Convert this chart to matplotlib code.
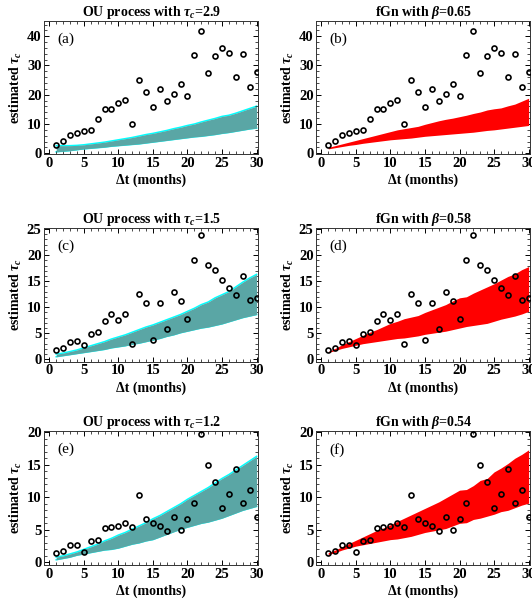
import numpy as np
import matplotlib
matplotlib.use("Agg")
import matplotlib.pyplot as plt
from matplotlib.ticker import MultipleLocator

plt.rcParams['font.family'] = ['Liberation Serif', 'DejaVu Serif']
plt.rcParams['font.weight'] = 'bold'
plt.rcParams['mathtext.fontset'] = 'custom'
plt.rcParams['mathtext.it'] = 'Liberation Serif:italic:bold'
plt.rcParams['mathtext.rm'] = 'Liberation Serif:bold'

dt = np.arange(1, 31)

# measured tau_c, one set per row
tau_row1 = [2.8, 4.3, 6.2, 7.0, 7.5, 8.0, 11.8, 15.0, 15.2, 17.2, 18.2, 9.9, 24.9, 20.9, 15.7,
            21.8, 18.0, 20.1, 23.8, 19.7, 33.5, 41.7, 27.4, 33.3, 36.0, 34.2, 25.9, 33.8, 22.8, 27.7]
tau_row2 = [1.7, 2.2, 3.4, 3.6, 2.7, 4.8, 5.2, 7.4, 8.7, 7.5, 8.7, 3.0, 12.5, 10.9, 3.8,
            10.9, 5.9, 12.9, 11.1, 7.8, 19.1, 23.9, 18.1, 17.1, 15.3, 13.6, 12.3, 15.9, 11.4, 11.8]
tau_row3 = [1.4, 1.7, 2.6, 2.7, 1.6, 3.3, 3.4, 5.3, 5.5, 5.6, 6.1, 5.4, 10.3, 6.6, 6.1,
            5.6, 4.8, 6.9, 4.9, 6.6, 9.2, 19.7, 14.9, 12.3, 8.3, 10.5, 14.4, 9.1, 11.2, 6.9]

# simulated ranges (upper / lower)
ou_a_hi = [2.6, 2.6, 2.6, 2.7, 2.9, 3.2, 3.5, 3.8, 4.2, 4.6, 5.0, 5.4, 5.9, 6.4, 6.8,
           7.3, 7.8, 8.4, 8.9, 9.5, 10.0, 10.7, 11.3, 11.9, 12.6, 13.0, 13.7, 14.5, 15.3, 16.1]
ou_a_lo = [0.5, 0.7, 0.9, 1.2, 1.5, 1.7, 1.9, 2.1, 2.4, 2.6, 2.8, 3.0, 3.2, 3.5, 3.8,
           4.1, 4.4, 4.7, 5.0, 5.3, 5.6, 5.8, 6.1, 6.4, 6.8, 7.1, 7.5, 7.9, 8.3, 8.6]
ou_c_hi = [1.0, 1.2, 1.5, 1.8, 2.2, 2.6, 3.0, 3.4, 3.9, 4.3, 4.7, 5.2, 5.7, 6.2, 6.6,
           7.1, 7.6, 8.1, 8.6, 9.2, 9.8, 10.5, 11.0, 11.8, 12.4, 13.0, 13.9, 14.8, 15.6, 16.3]
ou_c_lo = [0.5, 0.7, 0.9, 1.1, 1.3, 1.5, 1.7, 1.9, 2.2, 2.4, 2.6, 2.9, 3.1, 3.4, 3.7,
           4.0, 4.4, 4.7, 5.1, 5.4, 5.7, 6.0, 6.2, 6.5, 6.8, 7.2, 7.6, 8.0, 8.3, 8.6]
ou_e_hi = [0.8, 1.0, 1.3, 1.6, 2.0, 2.4, 2.8, 3.3, 3.7, 4.2, 4.6, 5.1, 5.6, 6.1, 6.7,
           7.2, 7.8, 8.4, 9.0, 9.7, 10.3, 10.9, 11.5, 12.2, 12.9, 13.5, 14.2, 14.9, 15.6, 16.3]
ou_e_lo = [0.4, 0.6, 0.8, 1.1, 1.3, 1.5, 1.7, 1.9, 2.0, 2.2, 2.5, 2.8, 3.0, 3.3, 3.5,
           3.9, 4.3, 4.7, 5.1, 5.4, 5.7, 6.0, 6.2, 6.5, 6.8, 7.2, 7.6, 8.0, 8.3, 8.6]
fgn_b_hi = [2.0, 2.6, 3.2, 3.8, 4.4, 5.0, 5.6, 6.2, 6.8, 7.4, 8.0, 8.4, 8.8, 9.2, 9.9,
            10.5, 11.1, 11.6, 12.0, 12.5, 13.0, 13.6, 14.1, 14.8, 15.2, 15.5, 16.2, 16.8, 17.8, 18.8]
fgn_b_lo = [1.5, 1.9, 2.3, 2.7, 3.0, 3.4, 3.7, 4.0, 4.3, 4.6, 4.8, 5.0, 5.2, 5.5, 5.8,
            6.0, 6.2, 6.4, 6.6, 6.8, 7.0, 7.2, 7.5, 7.8, 8.0, 8.3, 8.6, 8.9, 9.2, 9.5]
fgn_d_hi = [1.5, 2.1, 2.8, 3.4, 4.0, 4.6, 5.2, 5.7, 6.3, 6.9, 7.3, 7.8, 8.1, 8.4, 9.0,
            9.5, 10.0, 10.5, 11.2, 11.8, 12.0, 12.7, 13.3, 13.9, 14.5, 15.2, 15.9, 16.4, 17.2, 17.8]
fgn_d_lo = [1.3, 1.7, 2.1, 2.4, 2.7, 3.0, 3.2, 3.4, 3.6, 3.8, 4.0, 4.1, 4.3, 4.5, 4.8,
            5.0, 5.2, 5.4, 5.7, 6.0, 6.3, 6.5, 6.7, 6.9, 7.3, 7.7, 8.0, 8.3, 8.7, 9.2]
fgn_f_hi = [1.5, 1.9, 2.4, 2.9, 3.4, 3.9, 4.4, 4.9, 5.3, 5.8, 6.3, 6.8, 7.3, 7.8, 8.3,
            8.8, 9.3, 9.9, 10.5, 11.1, 11.2, 11.8, 12.6, 12.9, 13.9, 14.5, 15.2, 16.0, 16.6, 17.3]
fgn_f_lo = [1.2, 1.5, 1.9, 2.2, 2.5, 2.7, 2.9, 3.1, 3.3, 3.5, 3.6, 3.8, 4.0, 4.3, 4.6,
            4.8, 5.0, 5.2, 5.6, 6.0, 6.1, 6.6, 6.8, 7.1, 7.4, 7.8, 8.0, 8.4, 8.8, 9.1]

titles = [r"OU process with $\tau_c$=2.9", r"fGn with $\beta$=0.65",
          r"OU process with $\tau_c$=1.5", r"fGn with $\beta$=0.58",
          r"OU process with $\tau_c$=1.2", r"fGn with $\beta$=0.54"]
letters = ['(a)', '(b)', '(c)', '(d)', '(e)', '(f)']

fig = plt.figure(figsize=(5.32, 6.02), dpi=100)

col_x = [0.0833, 0.5946]
row_y = [0.7442, 0.3992, 0.0615]
row_h = [0.2209, 0.2221, 0.2226]
ylims = [(-0.25, 45.2), (-0.45, 25.2), (-0.4, 20.2)]
ymaj = [10, 5, 5]
ymin = [2, 1, 1]
taus = [tau_row1, tau_row2, tau_row3]
bands = [[(ou_a_lo, ou_a_hi), (fgn_b_lo, fgn_b_hi)],
         [(ou_c_lo, ou_c_hi), (fgn_d_lo, fgn_d_hi)],
         [(ou_e_lo, ou_e_hi), (fgn_f_lo, fgn_f_hi)]]

k = 0
for r in range(3):
    for c in range(2):
        ax = fig.add_axes([col_x[c], row_y[r], 0.402, row_h[r]])
        lo, hi = bands[r][c]
        if c == 0:
            ax.plot(dt, hi, color='cyan', lw=1.1, zorder=1)
            ax.plot(dt, lo, color='cyan', lw=1.1, zorder=1)
            ax.fill_between(dt, lo, hi, color='#5aa6a5', lw=0, zorder=2)
        else:
            ax.fill_between(dt, lo, hi, color='#ff0000', lw=0, zorder=2)
        ax.plot(dt, taus[r], 'o', mfc='none', mec='black', ms=3.6, mew=1.2, zorder=3)

        ax.set_xlim(-0.72, 30.23)
        ax.set_ylim(*ylims[r])
        ax.xaxis.set_major_locator(MultipleLocator(5))
        ax.xaxis.set_minor_locator(MultipleLocator(1))
        ax.yaxis.set_major_locator(MultipleLocator(ymaj[r]))
        ax.yaxis.set_minor_locator(MultipleLocator(ymin[r]))
        ax.tick_params(which='both', direction='in', top=True, right=True, labelsize=10.5, pad=2)
        ax.tick_params(which='major', length=3.5, width=0.7)
        ax.tick_params(which='minor', length=2, width=0.5)
        for s in ax.spines.values():
            s.set_linewidth(0.7)
            s.set_color('#333333')

        ax.set_title(titles[k], fontsize=10, fontweight='bold', pad=3)
        ax.set_xlabel("\u0394t (months)", fontsize=10, fontweight='bold', labelpad=3)
        ax.set_ylabel(r"estimated $\tau_c$", fontsize=10, fontweight='bold', labelpad=2)
        ax.text(0.06, 0.86, letters[k], transform=ax.transAxes, fontsize=11,
                fontweight='normal', va='center', ha='left')
        k += 1

fig.savefig("out.png", dpi=100)
